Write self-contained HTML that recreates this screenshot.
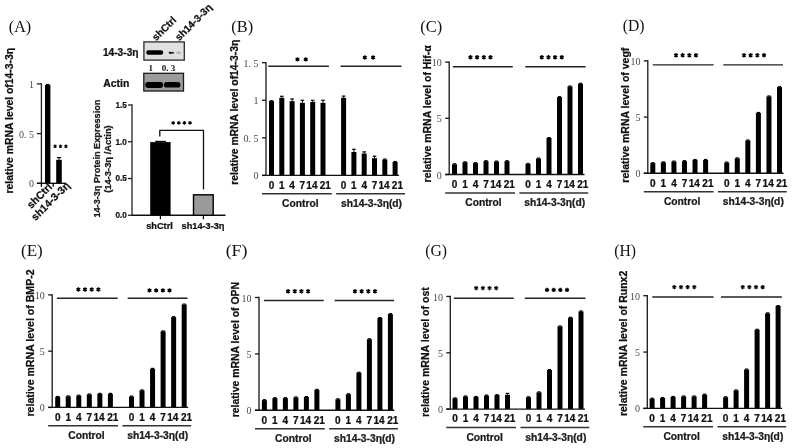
<!DOCTYPE html>
<html><head><meta charset="utf-8"><style>
html,body{margin:0;padding:0;background:#fff;}
svg{display:block;will-change:transform;}
.b{stroke:#000;stroke-width:0.22px;}
</style></head><body>
<svg width="793" height="448" viewBox="0 0 793 448">
<rect width="793" height="448" fill="#fff"/>
<text x="231.30" y="31.80" font-family='"Liberation Serif", serif' font-size="16.5" font-weight="normal" text-anchor="start" fill="#111" textLength="21.8" lengthAdjust="spacingAndGlyphs">(B)</text>
<line x1="266.00" y1="62.05" x2="266.00" y2="175.40" stroke="#1e1e1e" stroke-width="1.35"/>
<line x1="262.00" y1="175.40" x2="266.00" y2="175.40" stroke="#1e1e1e" stroke-width="1.35"/>
<text x="258.60" y="179.40" font-family='"Liberation Serif", serif' font-size="10" font-weight="normal" text-anchor="end" fill="#4a4a4a" >0</text>
<line x1="262.00" y1="137.83" x2="266.00" y2="137.83" stroke="#1e1e1e" stroke-width="1.35"/>
<text x="258.60" y="141.83" font-family='"Liberation Serif", serif' font-size="10" font-weight="normal" text-anchor="end" fill="#4a4a4a" >0. 5</text>
<line x1="262.00" y1="100.27" x2="266.00" y2="100.27" stroke="#1e1e1e" stroke-width="1.35"/>
<text x="258.60" y="104.27" font-family='"Liberation Serif", serif' font-size="10" font-weight="normal" text-anchor="end" fill="#4a4a4a" >1</text>
<line x1="262.00" y1="62.70" x2="266.00" y2="62.70" stroke="#1e1e1e" stroke-width="1.35"/>
<text x="258.60" y="66.70" font-family='"Liberation Serif", serif' font-size="10" font-weight="normal" text-anchor="end" fill="#4a4a4a" >1. 5</text>
<rect x="269.00" y="101.10" width="5.00" height="74.30" fill="#000"/>
<rect x="269.90" y="100.10" width="3.20" height="1.20" fill="#000"/>
<rect x="279.30" y="97.80" width="5.00" height="77.60" fill="#000"/>
<line x1="281.80" y1="96.30" x2="281.80" y2="97.80" stroke="#000" stroke-width="1"/>
<line x1="280.00" y1="96.30" x2="283.60" y2="96.30" stroke="#000" stroke-width="1.2"/>
<rect x="289.60" y="101.20" width="5.00" height="74.20" fill="#000"/>
<line x1="292.10" y1="99.00" x2="292.10" y2="101.20" stroke="#000" stroke-width="1"/>
<line x1="290.30" y1="99.00" x2="293.90" y2="99.00" stroke="#000" stroke-width="1.2"/>
<rect x="299.90" y="102.80" width="5.00" height="72.60" fill="#000"/>
<line x1="302.40" y1="100.30" x2="302.40" y2="102.80" stroke="#000" stroke-width="1"/>
<line x1="300.60" y1="100.30" x2="304.20" y2="100.30" stroke="#000" stroke-width="1.2"/>
<rect x="310.20" y="101.90" width="5.00" height="73.50" fill="#000"/>
<line x1="312.70" y1="100.30" x2="312.70" y2="101.90" stroke="#000" stroke-width="1"/>
<line x1="310.90" y1="100.30" x2="314.50" y2="100.30" stroke="#000" stroke-width="1.2"/>
<rect x="320.50" y="102.80" width="5.00" height="72.60" fill="#000"/>
<line x1="323.00" y1="100.30" x2="323.00" y2="102.80" stroke="#000" stroke-width="1"/>
<line x1="321.20" y1="100.30" x2="324.80" y2="100.30" stroke="#000" stroke-width="1.2"/>
<rect x="341.10" y="97.80" width="5.00" height="77.60" fill="#000"/>
<line x1="343.60" y1="96.10" x2="343.60" y2="97.80" stroke="#000" stroke-width="1"/>
<line x1="341.80" y1="96.10" x2="345.40" y2="96.10" stroke="#000" stroke-width="1.2"/>
<rect x="351.40" y="152.00" width="5.00" height="23.40" fill="#000"/>
<line x1="353.90" y1="149.30" x2="353.90" y2="152.00" stroke="#000" stroke-width="1"/>
<line x1="352.10" y1="149.30" x2="355.70" y2="149.30" stroke="#000" stroke-width="1.2"/>
<rect x="361.70" y="153.50" width="5.00" height="21.90" fill="#000"/>
<line x1="364.20" y1="151.90" x2="364.20" y2="153.50" stroke="#000" stroke-width="1"/>
<line x1="362.40" y1="151.90" x2="366.00" y2="151.90" stroke="#000" stroke-width="1.2"/>
<rect x="372.00" y="158.20" width="5.00" height="17.20" fill="#000"/>
<line x1="374.50" y1="156.20" x2="374.50" y2="158.20" stroke="#000" stroke-width="1"/>
<line x1="372.70" y1="156.20" x2="376.30" y2="156.20" stroke="#000" stroke-width="1.2"/>
<rect x="382.30" y="159.50" width="5.00" height="15.90" fill="#000"/>
<rect x="383.20" y="158.50" width="3.20" height="1.20" fill="#000"/>
<rect x="392.60" y="161.90" width="5.00" height="13.50" fill="#000"/>
<rect x="393.50" y="160.90" width="3.20" height="1.20" fill="#000"/>
<line x1="262.00" y1="175.40" x2="399.10" y2="175.40" stroke="#111" stroke-width="1.4"/>
<text class="b" x="271.50" y="188.60" font-family='"Liberation Sans", sans-serif' font-size="10" font-weight="bold" text-anchor="middle" fill="#111" >0</text>
<text class="b" x="281.80" y="188.60" font-family='"Liberation Sans", sans-serif' font-size="10" font-weight="bold" text-anchor="middle" fill="#111" >1</text>
<text class="b" x="292.10" y="188.60" font-family='"Liberation Sans", sans-serif' font-size="10" font-weight="bold" text-anchor="middle" fill="#111" >4</text>
<text class="b" x="302.40" y="188.60" font-family='"Liberation Sans", sans-serif' font-size="10" font-weight="bold" text-anchor="middle" fill="#111" >7</text>
<text class="b" x="311.90" y="188.60" font-family='"Liberation Sans", sans-serif' font-size="10" font-weight="bold" text-anchor="middle" fill="#111" >14</text>
<text class="b" x="325.30" y="188.60" font-family='"Liberation Sans", sans-serif' font-size="10" font-weight="bold" text-anchor="middle" fill="#111" >21</text>
<text class="b" x="343.60" y="188.60" font-family='"Liberation Sans", sans-serif' font-size="10" font-weight="bold" text-anchor="middle" fill="#111" >0</text>
<text class="b" x="353.90" y="188.60" font-family='"Liberation Sans", sans-serif' font-size="10" font-weight="bold" text-anchor="middle" fill="#111" >1</text>
<text class="b" x="364.20" y="188.60" font-family='"Liberation Sans", sans-serif' font-size="10" font-weight="bold" text-anchor="middle" fill="#111" >4</text>
<text class="b" x="374.50" y="188.60" font-family='"Liberation Sans", sans-serif' font-size="10" font-weight="bold" text-anchor="middle" fill="#111" >7</text>
<text class="b" x="384.00" y="188.60" font-family='"Liberation Sans", sans-serif' font-size="10" font-weight="bold" text-anchor="middle" fill="#111" >14</text>
<text class="b" x="397.40" y="188.60" font-family='"Liberation Sans", sans-serif' font-size="10" font-weight="bold" text-anchor="middle" fill="#111" >21</text>
<line x1="262.00" y1="193.80" x2="331.80" y2="193.80" stroke="#333" stroke-width="1.5"/>
<line x1="336.20" y1="193.80" x2="405.00" y2="193.80" stroke="#333" stroke-width="1.5"/>
<text class="b" x="300.30" y="206.90" font-family='"Liberation Sans", sans-serif' font-size="10.2" font-weight="bold" text-anchor="middle" fill="#1a1a1a" textLength="36.4" lengthAdjust="spacingAndGlyphs">Control</text>
<text class="b" x="371.50" y="206.90" font-family='"Liberation Sans", sans-serif' font-size="10" font-weight="bold" text-anchor="middle" fill="#222" textLength="61" lengthAdjust="spacingAndGlyphs">sh14-3-3η(d)</text>
<line x1="268.20" y1="66.20" x2="328.90" y2="66.20" stroke="#222" stroke-width="1.4"/>
<line x1="340.60" y1="66.20" x2="401.50" y2="66.20" stroke="#222" stroke-width="1.4"/>
<path d="M297.45,57.20L297.45,61.60M295.54,58.30L299.36,60.50M299.36,58.30L295.54,60.50" stroke="#000" stroke-width="1.35" fill="none"/>
<path d="M305.75,57.20L305.75,61.60M303.84,58.30L307.66,60.50M307.66,58.30L303.84,60.50" stroke="#000" stroke-width="1.35" fill="none"/>
<path d="M364.85,55.30L364.85,59.70M362.94,56.40L366.76,58.60M366.76,56.40L362.94,58.60" stroke="#000" stroke-width="1.35" fill="none"/>
<path d="M373.15,55.30L373.15,59.70M371.24,56.40L375.06,58.60M375.06,56.40L371.24,58.60" stroke="#000" stroke-width="1.35" fill="none"/>
<text transform="translate(238.30,184.70) rotate(-90)" font-family='"Liberation Sans", sans-serif' font-size="10.5" font-weight="bold" text-anchor="start" fill="#111" textLength="145.00" lengthAdjust="spacingAndGlyphs" class="b" >relative mRNA level of14-3-3η</text>
<text x="420.30" y="32.40" font-family='"Liberation Serif", serif' font-size="16.5" font-weight="normal" text-anchor="start" fill="#111" textLength="21.8" lengthAdjust="spacingAndGlyphs">(C)</text>
<line x1="449.20" y1="61.45" x2="449.20" y2="174.50" stroke="#1e1e1e" stroke-width="1.35"/>
<line x1="445.20" y1="174.50" x2="449.20" y2="174.50" stroke="#1e1e1e" stroke-width="1.35"/>
<text x="441.80" y="178.50" font-family='"Liberation Serif", serif' font-size="10" font-weight="normal" text-anchor="end" fill="#4a4a4a" >0</text>
<line x1="445.20" y1="118.30" x2="449.20" y2="118.30" stroke="#1e1e1e" stroke-width="1.35"/>
<text x="441.80" y="122.30" font-family='"Liberation Serif", serif' font-size="10" font-weight="normal" text-anchor="end" fill="#4a4a4a" >5</text>
<line x1="445.20" y1="62.10" x2="449.20" y2="62.10" stroke="#1e1e1e" stroke-width="1.35"/>
<text x="441.80" y="66.10" font-family='"Liberation Serif", serif' font-size="10" font-weight="normal" text-anchor="end" fill="#4a4a4a" >10</text>
<rect x="452.00" y="164.20" width="5.00" height="10.30" fill="#000"/>
<rect x="452.90" y="163.20" width="3.20" height="1.20" fill="#000"/>
<rect x="462.50" y="162.20" width="5.00" height="12.30" fill="#000"/>
<rect x="463.40" y="161.20" width="3.20" height="1.20" fill="#000"/>
<rect x="473.00" y="163.10" width="5.00" height="11.40" fill="#000"/>
<rect x="473.90" y="162.10" width="3.20" height="1.20" fill="#000"/>
<rect x="483.50" y="161.10" width="5.00" height="13.40" fill="#000"/>
<rect x="484.40" y="160.10" width="3.20" height="1.20" fill="#000"/>
<rect x="494.00" y="161.50" width="5.00" height="13.00" fill="#000"/>
<rect x="494.90" y="160.50" width="3.20" height="1.20" fill="#000"/>
<rect x="504.50" y="161.10" width="5.00" height="13.40" fill="#000"/>
<rect x="505.40" y="160.10" width="3.20" height="1.20" fill="#000"/>
<rect x="525.50" y="163.90" width="5.00" height="10.60" fill="#000"/>
<rect x="526.40" y="162.90" width="3.20" height="1.20" fill="#000"/>
<rect x="536.00" y="158.50" width="5.00" height="16.00" fill="#000"/>
<rect x="536.90" y="157.50" width="3.20" height="1.20" fill="#000"/>
<rect x="546.50" y="138.00" width="5.00" height="36.50" fill="#000"/>
<rect x="547.40" y="137.00" width="3.20" height="1.20" fill="#000"/>
<rect x="557.00" y="97.10" width="5.00" height="77.40" fill="#000"/>
<rect x="557.90" y="96.10" width="3.20" height="1.20" fill="#000"/>
<rect x="567.50" y="86.40" width="5.00" height="88.10" fill="#000"/>
<rect x="568.40" y="85.40" width="3.20" height="1.20" fill="#000"/>
<rect x="578.00" y="83.70" width="5.00" height="90.80" fill="#000"/>
<rect x="578.90" y="82.70" width="3.20" height="1.20" fill="#000"/>
<line x1="445.20" y1="174.50" x2="584.50" y2="174.50" stroke="#111" stroke-width="1.4"/>
<text class="b" x="454.50" y="187.70" font-family='"Liberation Sans", sans-serif' font-size="10" font-weight="bold" text-anchor="middle" fill="#111" >0</text>
<text class="b" x="465.00" y="187.70" font-family='"Liberation Sans", sans-serif' font-size="10" font-weight="bold" text-anchor="middle" fill="#111" >1</text>
<text class="b" x="475.50" y="187.70" font-family='"Liberation Sans", sans-serif' font-size="10" font-weight="bold" text-anchor="middle" fill="#111" >4</text>
<text class="b" x="486.00" y="187.70" font-family='"Liberation Sans", sans-serif' font-size="10" font-weight="bold" text-anchor="middle" fill="#111" >7</text>
<text class="b" x="495.70" y="187.70" font-family='"Liberation Sans", sans-serif' font-size="10" font-weight="bold" text-anchor="middle" fill="#111" >14</text>
<text class="b" x="509.30" y="187.70" font-family='"Liberation Sans", sans-serif' font-size="10" font-weight="bold" text-anchor="middle" fill="#111" >21</text>
<text class="b" x="528.00" y="187.70" font-family='"Liberation Sans", sans-serif' font-size="10" font-weight="bold" text-anchor="middle" fill="#111" >0</text>
<text class="b" x="538.50" y="187.70" font-family='"Liberation Sans", sans-serif' font-size="10" font-weight="bold" text-anchor="middle" fill="#111" >1</text>
<text class="b" x="549.00" y="187.70" font-family='"Liberation Sans", sans-serif' font-size="10" font-weight="bold" text-anchor="middle" fill="#111" >4</text>
<text class="b" x="559.50" y="187.70" font-family='"Liberation Sans", sans-serif' font-size="10" font-weight="bold" text-anchor="middle" fill="#111" >7</text>
<text class="b" x="569.20" y="187.70" font-family='"Liberation Sans", sans-serif' font-size="10" font-weight="bold" text-anchor="middle" fill="#111" >14</text>
<text class="b" x="582.80" y="187.70" font-family='"Liberation Sans", sans-serif' font-size="10" font-weight="bold" text-anchor="middle" fill="#111" >21</text>
<line x1="445.20" y1="192.90" x2="515.00" y2="192.90" stroke="#333" stroke-width="1.5"/>
<line x1="519.40" y1="192.90" x2="588.20" y2="192.90" stroke="#333" stroke-width="1.5"/>
<text class="b" x="483.50" y="206.00" font-family='"Liberation Sans", sans-serif' font-size="10.2" font-weight="bold" text-anchor="middle" fill="#1a1a1a" textLength="36.4" lengthAdjust="spacingAndGlyphs">Control</text>
<text class="b" x="554.70" y="206.00" font-family='"Liberation Sans", sans-serif' font-size="10" font-weight="bold" text-anchor="middle" fill="#222" textLength="61" lengthAdjust="spacingAndGlyphs">sh14-3-3η(d)</text>
<line x1="452.90" y1="66.70" x2="512.80" y2="66.70" stroke="#222" stroke-width="1.4"/>
<line x1="525.30" y1="66.70" x2="585.60" y2="66.70" stroke="#222" stroke-width="1.4"/>
<path d="M470.50,55.00L470.50,59.40M468.59,56.10L472.40,58.30M472.40,56.10L468.59,58.30" stroke="#000" stroke-width="1.35" fill="none"/>
<path d="M477.17,55.00L477.17,59.40M475.26,56.10L479.07,58.30M479.07,56.10L475.26,58.30" stroke="#000" stroke-width="1.35" fill="none"/>
<path d="M483.83,55.00L483.83,59.40M481.93,56.10L485.74,58.30M485.74,56.10L481.93,58.30" stroke="#000" stroke-width="1.35" fill="none"/>
<path d="M490.50,55.00L490.50,59.40M488.60,56.10L492.41,58.30M492.41,56.10L488.60,58.30" stroke="#000" stroke-width="1.35" fill="none"/>
<path d="M541.79,55.00L541.79,59.40M539.89,56.10L543.70,58.30M543.70,56.10L539.89,58.30" stroke="#000" stroke-width="1.35" fill="none"/>
<path d="M548.46,55.00L548.46,59.40M546.56,56.10L550.37,58.30M550.37,56.10L546.56,58.30" stroke="#000" stroke-width="1.35" fill="none"/>
<path d="M555.13,55.00L555.13,59.40M553.23,56.10L557.04,58.30M557.04,56.10L553.23,58.30" stroke="#000" stroke-width="1.35" fill="none"/>
<path d="M561.80,55.00L561.80,59.40M559.90,56.10L563.71,58.30M563.71,56.10L559.90,58.30" stroke="#000" stroke-width="1.35" fill="none"/>
<text transform="translate(430.80,182.40) rotate(-90)" font-family='"Liberation Sans", sans-serif' font-size="10.5" font-weight="bold" text-anchor="start" fill="#111" textLength="137.10" lengthAdjust="spacingAndGlyphs" class="b" >relative mRNA level of Hif-α</text>
<text x="622.80" y="30.60" font-family='"Liberation Serif", serif' font-size="16.5" font-weight="normal" text-anchor="start" fill="#111" textLength="21.8" lengthAdjust="spacingAndGlyphs">(D)</text>
<line x1="647.80" y1="60.25" x2="647.80" y2="173.30" stroke="#1e1e1e" stroke-width="1.35"/>
<line x1="643.80" y1="173.30" x2="647.80" y2="173.30" stroke="#1e1e1e" stroke-width="1.35"/>
<text x="640.40" y="177.30" font-family='"Liberation Serif", serif' font-size="10" font-weight="normal" text-anchor="end" fill="#4a4a4a" >0</text>
<line x1="643.80" y1="117.10" x2="647.80" y2="117.10" stroke="#1e1e1e" stroke-width="1.35"/>
<text x="640.40" y="121.10" font-family='"Liberation Serif", serif' font-size="10" font-weight="normal" text-anchor="end" fill="#4a4a4a" >5</text>
<line x1="643.80" y1="60.90" x2="647.80" y2="60.90" stroke="#1e1e1e" stroke-width="1.35"/>
<text x="640.40" y="64.90" font-family='"Liberation Serif", serif' font-size="10" font-weight="normal" text-anchor="end" fill="#4a4a4a" >10</text>
<rect x="650.30" y="163.10" width="5.00" height="10.20" fill="#000"/>
<rect x="651.20" y="162.10" width="3.20" height="1.20" fill="#000"/>
<rect x="660.86" y="162.30" width="5.00" height="11.00" fill="#000"/>
<rect x="661.76" y="161.30" width="3.20" height="1.20" fill="#000"/>
<rect x="671.42" y="161.50" width="5.00" height="11.80" fill="#000"/>
<rect x="672.32" y="160.50" width="3.20" height="1.20" fill="#000"/>
<rect x="681.98" y="161.10" width="5.00" height="12.20" fill="#000"/>
<rect x="682.88" y="160.10" width="3.20" height="1.20" fill="#000"/>
<rect x="692.54" y="159.90" width="5.00" height="13.40" fill="#000"/>
<rect x="693.44" y="158.90" width="3.20" height="1.20" fill="#000"/>
<rect x="703.10" y="159.90" width="5.00" height="13.40" fill="#000"/>
<rect x="704.00" y="158.90" width="3.20" height="1.20" fill="#000"/>
<rect x="724.22" y="162.50" width="5.00" height="10.80" fill="#000"/>
<rect x="725.12" y="161.50" width="3.20" height="1.20" fill="#000"/>
<rect x="734.78" y="158.30" width="5.00" height="15.00" fill="#000"/>
<rect x="735.68" y="157.30" width="3.20" height="1.20" fill="#000"/>
<rect x="745.34" y="140.40" width="5.00" height="32.90" fill="#000"/>
<rect x="746.24" y="139.40" width="3.20" height="1.20" fill="#000"/>
<rect x="755.90" y="112.90" width="5.00" height="60.40" fill="#000"/>
<rect x="756.80" y="111.90" width="3.20" height="1.20" fill="#000"/>
<rect x="766.46" y="96.40" width="5.00" height="76.90" fill="#000"/>
<rect x="767.36" y="95.40" width="3.20" height="1.20" fill="#000"/>
<rect x="777.02" y="87.10" width="5.00" height="86.20" fill="#000"/>
<rect x="777.92" y="86.10" width="3.20" height="1.20" fill="#000"/>
<line x1="643.80" y1="173.30" x2="783.52" y2="173.30" stroke="#111" stroke-width="1.4"/>
<text class="b" x="652.80" y="186.50" font-family='"Liberation Sans", sans-serif' font-size="10" font-weight="bold" text-anchor="middle" fill="#111" >0</text>
<text class="b" x="663.36" y="186.50" font-family='"Liberation Sans", sans-serif' font-size="10" font-weight="bold" text-anchor="middle" fill="#111" >1</text>
<text class="b" x="673.92" y="186.50" font-family='"Liberation Sans", sans-serif' font-size="10" font-weight="bold" text-anchor="middle" fill="#111" >4</text>
<text class="b" x="684.48" y="186.50" font-family='"Liberation Sans", sans-serif' font-size="10" font-weight="bold" text-anchor="middle" fill="#111" >7</text>
<text class="b" x="694.24" y="186.50" font-family='"Liberation Sans", sans-serif' font-size="10" font-weight="bold" text-anchor="middle" fill="#111" >14</text>
<text class="b" x="707.90" y="186.50" font-family='"Liberation Sans", sans-serif' font-size="10" font-weight="bold" text-anchor="middle" fill="#111" >21</text>
<text class="b" x="726.72" y="186.50" font-family='"Liberation Sans", sans-serif' font-size="10" font-weight="bold" text-anchor="middle" fill="#111" >0</text>
<text class="b" x="737.28" y="186.50" font-family='"Liberation Sans", sans-serif' font-size="10" font-weight="bold" text-anchor="middle" fill="#111" >1</text>
<text class="b" x="747.84" y="186.50" font-family='"Liberation Sans", sans-serif' font-size="10" font-weight="bold" text-anchor="middle" fill="#111" >4</text>
<text class="b" x="758.40" y="186.50" font-family='"Liberation Sans", sans-serif' font-size="10" font-weight="bold" text-anchor="middle" fill="#111" >7</text>
<text class="b" x="768.16" y="186.50" font-family='"Liberation Sans", sans-serif' font-size="10" font-weight="bold" text-anchor="middle" fill="#111" >14</text>
<text class="b" x="781.82" y="186.50" font-family='"Liberation Sans", sans-serif' font-size="10" font-weight="bold" text-anchor="middle" fill="#111" >21</text>
<line x1="643.80" y1="191.70" x2="713.60" y2="191.70" stroke="#333" stroke-width="1.5"/>
<line x1="718.00" y1="191.70" x2="786.80" y2="191.70" stroke="#333" stroke-width="1.5"/>
<text class="b" x="682.10" y="204.80" font-family='"Liberation Sans", sans-serif' font-size="10.2" font-weight="bold" text-anchor="middle" fill="#1a1a1a" textLength="36.4" lengthAdjust="spacingAndGlyphs">Control</text>
<text class="b" x="753.30" y="204.80" font-family='"Liberation Sans", sans-serif' font-size="10" font-weight="bold" text-anchor="middle" fill="#222" textLength="61" lengthAdjust="spacingAndGlyphs">sh14-3-3η(d)</text>
<line x1="652.70" y1="64.90" x2="713.60" y2="64.90" stroke="#222" stroke-width="1.4"/>
<line x1="723.30" y1="64.90" x2="783.00" y2="64.90" stroke="#222" stroke-width="1.4"/>
<path d="M676.00,53.00L676.00,57.40M674.09,54.10L677.90,56.30M677.90,54.10L674.09,56.30" stroke="#000" stroke-width="1.35" fill="none"/>
<path d="M682.66,53.00L682.66,57.40M680.76,54.10L684.57,56.30M684.57,54.10L680.76,56.30" stroke="#000" stroke-width="1.35" fill="none"/>
<path d="M689.34,53.00L689.34,57.40M687.43,54.10L691.24,56.30M691.24,54.10L687.43,56.30" stroke="#000" stroke-width="1.35" fill="none"/>
<path d="M696.00,53.00L696.00,57.40M694.10,54.10L697.91,56.30M697.91,54.10L694.10,56.30" stroke="#000" stroke-width="1.35" fill="none"/>
<path d="M744.00,53.00L744.00,57.40M742.09,54.10L745.90,56.30M745.90,54.10L742.09,56.30" stroke="#000" stroke-width="1.35" fill="none"/>
<path d="M750.66,53.00L750.66,57.40M748.76,54.10L752.57,56.30M752.57,54.10L748.76,56.30" stroke="#000" stroke-width="1.35" fill="none"/>
<path d="M757.34,53.00L757.34,57.40M755.43,54.10L759.24,56.30M759.24,54.10L755.43,56.30" stroke="#000" stroke-width="1.35" fill="none"/>
<path d="M764.00,53.00L764.00,57.40M762.10,54.10L765.91,56.30M765.91,54.10L762.10,56.30" stroke="#000" stroke-width="1.35" fill="none"/>
<text transform="translate(629.00,182.70) rotate(-90)" font-family='"Liberation Sans", sans-serif' font-size="10.5" font-weight="bold" text-anchor="start" fill="#111" textLength="135.00" lengthAdjust="spacingAndGlyphs" class="b" >relative mRNA level of vegf</text>
<text x="21.00" y="256.00" font-family='"Liberation Serif", serif' font-size="16.5" font-weight="normal" text-anchor="start" fill="#111" textLength="21.8" lengthAdjust="spacingAndGlyphs">(E)</text>
<line x1="52.20" y1="294.25" x2="52.20" y2="407.40" stroke="#1e1e1e" stroke-width="1.35"/>
<line x1="48.20" y1="407.40" x2="52.20" y2="407.40" stroke="#1e1e1e" stroke-width="1.35"/>
<text x="44.80" y="411.40" font-family='"Liberation Serif", serif' font-size="10" font-weight="normal" text-anchor="end" fill="#4a4a4a" >0</text>
<line x1="48.20" y1="351.15" x2="52.20" y2="351.15" stroke="#1e1e1e" stroke-width="1.35"/>
<text x="44.80" y="355.15" font-family='"Liberation Serif", serif' font-size="10" font-weight="normal" text-anchor="end" fill="#4a4a4a" >5</text>
<line x1="48.20" y1="294.90" x2="52.20" y2="294.90" stroke="#1e1e1e" stroke-width="1.35"/>
<text x="44.80" y="298.90" font-family='"Liberation Serif", serif' font-size="10" font-weight="normal" text-anchor="end" fill="#4a4a4a" >10</text>
<rect x="55.20" y="396.90" width="5.00" height="10.50" fill="#000"/>
<rect x="56.10" y="395.90" width="3.20" height="1.20" fill="#000"/>
<rect x="65.74" y="396.30" width="5.00" height="11.10" fill="#000"/>
<rect x="66.64" y="395.30" width="3.20" height="1.20" fill="#000"/>
<rect x="76.28" y="395.60" width="5.00" height="11.80" fill="#000"/>
<rect x="77.18" y="394.60" width="3.20" height="1.20" fill="#000"/>
<rect x="86.82" y="394.40" width="5.00" height="13.00" fill="#000"/>
<rect x="87.72" y="393.40" width="3.20" height="1.20" fill="#000"/>
<rect x="97.36" y="393.80" width="5.00" height="13.60" fill="#000"/>
<rect x="98.26" y="392.80" width="3.20" height="1.20" fill="#000"/>
<rect x="107.90" y="393.80" width="5.00" height="13.60" fill="#000"/>
<rect x="108.80" y="392.80" width="3.20" height="1.20" fill="#000"/>
<rect x="128.98" y="396.50" width="5.00" height="10.90" fill="#000"/>
<rect x="129.88" y="395.50" width="3.20" height="1.20" fill="#000"/>
<rect x="139.52" y="390.30" width="5.00" height="17.10" fill="#000"/>
<rect x="140.42" y="389.30" width="3.20" height="1.20" fill="#000"/>
<rect x="150.06" y="368.80" width="5.00" height="38.60" fill="#000"/>
<rect x="150.96" y="367.80" width="3.20" height="1.20" fill="#000"/>
<rect x="160.60" y="331.30" width="5.00" height="76.10" fill="#000"/>
<rect x="161.50" y="330.30" width="3.20" height="1.20" fill="#000"/>
<rect x="171.14" y="317.10" width="5.00" height="90.30" fill="#000"/>
<rect x="172.04" y="316.10" width="3.20" height="1.20" fill="#000"/>
<rect x="181.68" y="304.50" width="5.00" height="102.90" fill="#000"/>
<rect x="182.58" y="303.50" width="3.20" height="1.20" fill="#000"/>
<line x1="48.20" y1="407.40" x2="188.18" y2="407.40" stroke="#111" stroke-width="1.4"/>
<text class="b" x="57.70" y="420.60" font-family='"Liberation Sans", sans-serif' font-size="10" font-weight="bold" text-anchor="middle" fill="#111" >0</text>
<text class="b" x="68.24" y="420.60" font-family='"Liberation Sans", sans-serif' font-size="10" font-weight="bold" text-anchor="middle" fill="#111" >1</text>
<text class="b" x="78.78" y="420.60" font-family='"Liberation Sans", sans-serif' font-size="10" font-weight="bold" text-anchor="middle" fill="#111" >4</text>
<text class="b" x="89.32" y="420.60" font-family='"Liberation Sans", sans-serif' font-size="10" font-weight="bold" text-anchor="middle" fill="#111" >7</text>
<text class="b" x="99.06" y="420.60" font-family='"Liberation Sans", sans-serif' font-size="10" font-weight="bold" text-anchor="middle" fill="#111" >14</text>
<text class="b" x="112.70" y="420.60" font-family='"Liberation Sans", sans-serif' font-size="10" font-weight="bold" text-anchor="middle" fill="#111" >21</text>
<text class="b" x="131.48" y="420.60" font-family='"Liberation Sans", sans-serif' font-size="10" font-weight="bold" text-anchor="middle" fill="#111" >0</text>
<text class="b" x="142.02" y="420.60" font-family='"Liberation Sans", sans-serif' font-size="10" font-weight="bold" text-anchor="middle" fill="#111" >1</text>
<text class="b" x="152.56" y="420.60" font-family='"Liberation Sans", sans-serif' font-size="10" font-weight="bold" text-anchor="middle" fill="#111" >4</text>
<text class="b" x="163.10" y="420.60" font-family='"Liberation Sans", sans-serif' font-size="10" font-weight="bold" text-anchor="middle" fill="#111" >7</text>
<text class="b" x="172.84" y="420.60" font-family='"Liberation Sans", sans-serif' font-size="10" font-weight="bold" text-anchor="middle" fill="#111" >14</text>
<text class="b" x="186.48" y="420.60" font-family='"Liberation Sans", sans-serif' font-size="10" font-weight="bold" text-anchor="middle" fill="#111" >21</text>
<line x1="48.20" y1="425.80" x2="118.00" y2="425.80" stroke="#333" stroke-width="1.5"/>
<line x1="122.40" y1="425.80" x2="191.20" y2="425.80" stroke="#333" stroke-width="1.5"/>
<text class="b" x="86.50" y="438.90" font-family='"Liberation Sans", sans-serif' font-size="10.2" font-weight="bold" text-anchor="middle" fill="#1a1a1a" textLength="36.4" lengthAdjust="spacingAndGlyphs">Control</text>
<text class="b" x="157.70" y="438.90" font-family='"Liberation Sans", sans-serif' font-size="10" font-weight="bold" text-anchor="middle" fill="#222" textLength="61" lengthAdjust="spacingAndGlyphs">sh14-3-3η(d)</text>
<line x1="56.90" y1="298.30" x2="117.70" y2="298.30" stroke="#222" stroke-width="1.4"/>
<line x1="127.70" y1="298.30" x2="187.50" y2="298.30" stroke="#222" stroke-width="1.4"/>
<path d="M78.40,287.30L78.40,291.70M76.49,288.40L80.30,290.60M80.30,288.40L76.49,290.60" stroke="#000" stroke-width="1.35" fill="none"/>
<path d="M85.07,287.30L85.07,291.70M83.16,288.40L86.97,290.60M86.97,288.40L83.16,290.60" stroke="#000" stroke-width="1.35" fill="none"/>
<path d="M91.74,287.30L91.74,291.70M89.83,288.40L93.64,290.60M93.64,288.40L89.83,290.60" stroke="#000" stroke-width="1.35" fill="none"/>
<path d="M98.41,287.30L98.41,291.70M96.50,288.40L100.31,290.60M100.31,288.40L96.50,290.60" stroke="#000" stroke-width="1.35" fill="none"/>
<path d="M149.50,288.20L149.50,292.60M147.59,289.30L151.40,291.50M151.40,289.30L147.59,291.50" stroke="#000" stroke-width="1.35" fill="none"/>
<path d="M156.16,288.20L156.16,292.60M154.26,289.30L158.07,291.50M158.07,289.30L154.26,291.50" stroke="#000" stroke-width="1.35" fill="none"/>
<path d="M162.84,288.20L162.84,292.60M160.93,289.30L164.74,291.50M164.74,289.30L160.93,291.50" stroke="#000" stroke-width="1.35" fill="none"/>
<path d="M169.50,288.20L169.50,292.60M167.60,289.30L171.41,291.50M171.41,289.30L167.60,291.50" stroke="#000" stroke-width="1.35" fill="none"/>
<text transform="translate(34.10,416.50) rotate(-90)" font-family='"Liberation Sans", sans-serif' font-size="10.5" font-weight="bold" text-anchor="start" fill="#111" textLength="147.10" lengthAdjust="spacingAndGlyphs" class="b" >relative mRNA level of BMP-2</text>
<text x="225.70" y="256.10" font-family='"Liberation Serif", serif' font-size="16.5" font-weight="normal" text-anchor="start" fill="#111" textLength="21.8" lengthAdjust="spacingAndGlyphs">(F)</text>
<line x1="259.00" y1="296.85" x2="259.00" y2="410.30" stroke="#1e1e1e" stroke-width="1.35"/>
<line x1="255.00" y1="410.30" x2="259.00" y2="410.30" stroke="#1e1e1e" stroke-width="1.35"/>
<text x="251.60" y="414.30" font-family='"Liberation Serif", serif' font-size="10" font-weight="normal" text-anchor="end" fill="#4a4a4a" >0</text>
<line x1="255.00" y1="353.90" x2="259.00" y2="353.90" stroke="#1e1e1e" stroke-width="1.35"/>
<text x="251.60" y="357.90" font-family='"Liberation Serif", serif' font-size="10" font-weight="normal" text-anchor="end" fill="#4a4a4a" >5</text>
<line x1="255.00" y1="297.50" x2="259.00" y2="297.50" stroke="#1e1e1e" stroke-width="1.35"/>
<text x="251.60" y="301.50" font-family='"Liberation Serif", serif' font-size="10" font-weight="normal" text-anchor="end" fill="#4a4a4a" >10</text>
<rect x="261.90" y="400.10" width="5.00" height="10.20" fill="#000"/>
<rect x="262.80" y="399.10" width="3.20" height="1.20" fill="#000"/>
<rect x="272.40" y="398.10" width="5.00" height="12.20" fill="#000"/>
<rect x="273.30" y="397.10" width="3.20" height="1.20" fill="#000"/>
<rect x="282.90" y="398.10" width="5.00" height="12.20" fill="#000"/>
<rect x="283.80" y="397.10" width="3.20" height="1.20" fill="#000"/>
<rect x="293.40" y="397.40" width="5.00" height="12.90" fill="#000"/>
<rect x="294.30" y="396.40" width="3.20" height="1.20" fill="#000"/>
<rect x="303.90" y="397.00" width="5.00" height="13.30" fill="#000"/>
<rect x="304.80" y="396.00" width="3.20" height="1.20" fill="#000"/>
<rect x="314.40" y="389.80" width="5.00" height="20.50" fill="#000"/>
<rect x="315.30" y="388.80" width="3.20" height="1.20" fill="#000"/>
<rect x="335.40" y="399.20" width="5.00" height="11.10" fill="#000"/>
<rect x="336.30" y="398.20" width="3.20" height="1.20" fill="#000"/>
<rect x="345.90" y="394.20" width="5.00" height="16.10" fill="#000"/>
<rect x="346.80" y="393.20" width="3.20" height="1.20" fill="#000"/>
<rect x="356.40" y="372.70" width="5.00" height="37.60" fill="#000"/>
<rect x="357.30" y="371.70" width="3.20" height="1.20" fill="#000"/>
<rect x="366.90" y="339.20" width="5.00" height="71.10" fill="#000"/>
<rect x="367.80" y="338.20" width="3.20" height="1.20" fill="#000"/>
<rect x="377.40" y="318.00" width="5.00" height="92.30" fill="#000"/>
<rect x="378.30" y="317.00" width="3.20" height="1.20" fill="#000"/>
<rect x="387.90" y="314.10" width="5.00" height="96.20" fill="#000"/>
<rect x="388.80" y="313.10" width="3.20" height="1.20" fill="#000"/>
<line x1="255.00" y1="410.30" x2="394.40" y2="410.30" stroke="#111" stroke-width="1.4"/>
<text class="b" x="264.40" y="423.50" font-family='"Liberation Sans", sans-serif' font-size="10" font-weight="bold" text-anchor="middle" fill="#111" >0</text>
<text class="b" x="274.90" y="423.50" font-family='"Liberation Sans", sans-serif' font-size="10" font-weight="bold" text-anchor="middle" fill="#111" >1</text>
<text class="b" x="285.40" y="423.50" font-family='"Liberation Sans", sans-serif' font-size="10" font-weight="bold" text-anchor="middle" fill="#111" >4</text>
<text class="b" x="295.90" y="423.50" font-family='"Liberation Sans", sans-serif' font-size="10" font-weight="bold" text-anchor="middle" fill="#111" >7</text>
<text class="b" x="305.60" y="423.50" font-family='"Liberation Sans", sans-serif' font-size="10" font-weight="bold" text-anchor="middle" fill="#111" >14</text>
<text class="b" x="319.20" y="423.50" font-family='"Liberation Sans", sans-serif' font-size="10" font-weight="bold" text-anchor="middle" fill="#111" >21</text>
<text class="b" x="337.90" y="423.50" font-family='"Liberation Sans", sans-serif' font-size="10" font-weight="bold" text-anchor="middle" fill="#111" >0</text>
<text class="b" x="348.40" y="423.50" font-family='"Liberation Sans", sans-serif' font-size="10" font-weight="bold" text-anchor="middle" fill="#111" >1</text>
<text class="b" x="358.90" y="423.50" font-family='"Liberation Sans", sans-serif' font-size="10" font-weight="bold" text-anchor="middle" fill="#111" >4</text>
<text class="b" x="369.40" y="423.50" font-family='"Liberation Sans", sans-serif' font-size="10" font-weight="bold" text-anchor="middle" fill="#111" >7</text>
<text class="b" x="379.10" y="423.50" font-family='"Liberation Sans", sans-serif' font-size="10" font-weight="bold" text-anchor="middle" fill="#111" >14</text>
<text class="b" x="392.70" y="423.50" font-family='"Liberation Sans", sans-serif' font-size="10" font-weight="bold" text-anchor="middle" fill="#111" >21</text>
<line x1="255.00" y1="428.70" x2="324.80" y2="428.70" stroke="#333" stroke-width="1.5"/>
<line x1="329.20" y1="428.70" x2="398.00" y2="428.70" stroke="#333" stroke-width="1.5"/>
<text class="b" x="293.30" y="441.80" font-family='"Liberation Sans", sans-serif' font-size="10.2" font-weight="bold" text-anchor="middle" fill="#1a1a1a" textLength="36.4" lengthAdjust="spacingAndGlyphs">Control</text>
<text class="b" x="364.50" y="441.80" font-family='"Liberation Sans", sans-serif' font-size="10" font-weight="bold" text-anchor="middle" fill="#222" textLength="61" lengthAdjust="spacingAndGlyphs">sh14-3-3η(d)</text>
<line x1="263.90" y1="300.50" x2="323.70" y2="300.50" stroke="#222" stroke-width="1.4"/>
<line x1="334.70" y1="300.50" x2="394.10" y2="300.50" stroke="#222" stroke-width="1.4"/>
<path d="M288.10,289.10L288.10,293.50M286.19,290.20L290.00,292.40M290.00,290.20L286.19,292.40" stroke="#000" stroke-width="1.35" fill="none"/>
<path d="M294.77,289.10L294.77,293.50M292.86,290.20L296.67,292.40M296.67,290.20L292.86,292.40" stroke="#000" stroke-width="1.35" fill="none"/>
<path d="M301.44,289.10L301.44,293.50M299.53,290.20L303.34,292.40M303.34,290.20L299.53,292.40" stroke="#000" stroke-width="1.35" fill="none"/>
<path d="M308.11,289.10L308.11,293.50M306.20,290.20L310.01,292.40M310.01,290.20L306.20,292.40" stroke="#000" stroke-width="1.35" fill="none"/>
<path d="M355.00,289.10L355.00,293.50M353.09,290.20L356.90,292.40M356.90,290.20L353.09,292.40" stroke="#000" stroke-width="1.35" fill="none"/>
<path d="M361.67,289.10L361.67,293.50M359.76,290.20L363.57,292.40M363.57,290.20L359.76,292.40" stroke="#000" stroke-width="1.35" fill="none"/>
<path d="M368.33,289.10L368.33,293.50M366.43,290.20L370.24,292.40M370.24,290.20L366.43,292.40" stroke="#000" stroke-width="1.35" fill="none"/>
<path d="M375.00,289.10L375.00,293.50M373.10,290.20L376.91,292.40M376.91,290.20L373.10,292.40" stroke="#000" stroke-width="1.35" fill="none"/>
<text transform="translate(239.00,417.30) rotate(-90)" font-family='"Liberation Sans", sans-serif' font-size="10.5" font-weight="bold" text-anchor="start" fill="#111" textLength="135.40" lengthAdjust="spacingAndGlyphs" class="b" >relative mRNA level of OPN</text>
<text x="425.30" y="256.30" font-family='"Liberation Serif", serif' font-size="16.5" font-weight="normal" text-anchor="start" fill="#111" textLength="21.8" lengthAdjust="spacingAndGlyphs">(G)</text>
<line x1="450.30" y1="295.85" x2="450.30" y2="409.10" stroke="#1e1e1e" stroke-width="1.35"/>
<line x1="446.30" y1="409.10" x2="450.30" y2="409.10" stroke="#1e1e1e" stroke-width="1.35"/>
<text x="442.90" y="413.10" font-family='"Liberation Serif", serif' font-size="10" font-weight="normal" text-anchor="end" fill="#4a4a4a" >0</text>
<line x1="446.30" y1="352.80" x2="450.30" y2="352.80" stroke="#1e1e1e" stroke-width="1.35"/>
<text x="442.90" y="356.80" font-family='"Liberation Serif", serif' font-size="10" font-weight="normal" text-anchor="end" fill="#4a4a4a" >5</text>
<line x1="446.30" y1="296.50" x2="450.30" y2="296.50" stroke="#1e1e1e" stroke-width="1.35"/>
<text x="442.90" y="300.50" font-family='"Liberation Serif", serif' font-size="10" font-weight="normal" text-anchor="end" fill="#4a4a4a" >10</text>
<rect x="452.50" y="398.30" width="5.00" height="10.80" fill="#000"/>
<rect x="453.40" y="397.30" width="3.20" height="1.20" fill="#000"/>
<rect x="463.00" y="396.40" width="5.00" height="12.70" fill="#000"/>
<rect x="463.90" y="395.40" width="3.20" height="1.20" fill="#000"/>
<rect x="473.50" y="396.90" width="5.00" height="12.20" fill="#000"/>
<rect x="474.40" y="395.90" width="3.20" height="1.20" fill="#000"/>
<rect x="484.00" y="395.50" width="5.00" height="13.60" fill="#000"/>
<rect x="484.90" y="394.50" width="3.20" height="1.20" fill="#000"/>
<rect x="494.50" y="395.10" width="5.00" height="14.00" fill="#000"/>
<rect x="495.40" y="394.10" width="3.20" height="1.20" fill="#000"/>
<rect x="505.00" y="394.80" width="5.00" height="14.30" fill="#000"/>
<line x1="507.50" y1="393.40" x2="507.50" y2="394.80" stroke="#000" stroke-width="1"/>
<line x1="505.70" y1="393.40" x2="509.30" y2="393.40" stroke="#000" stroke-width="1.2"/>
<rect x="526.00" y="397.20" width="5.00" height="11.90" fill="#000"/>
<rect x="526.90" y="396.20" width="3.20" height="1.20" fill="#000"/>
<rect x="536.50" y="392.30" width="5.00" height="16.80" fill="#000"/>
<rect x="537.40" y="391.30" width="3.20" height="1.20" fill="#000"/>
<rect x="547.00" y="370.00" width="5.00" height="39.10" fill="#000"/>
<rect x="547.90" y="369.00" width="3.20" height="1.20" fill="#000"/>
<rect x="557.50" y="326.40" width="5.00" height="82.70" fill="#000"/>
<rect x="558.40" y="325.40" width="3.20" height="1.20" fill="#000"/>
<rect x="568.00" y="317.70" width="5.00" height="91.40" fill="#000"/>
<rect x="568.90" y="316.70" width="3.20" height="1.20" fill="#000"/>
<rect x="578.50" y="311.40" width="5.00" height="97.70" fill="#000"/>
<rect x="579.40" y="310.40" width="3.20" height="1.20" fill="#000"/>
<line x1="446.30" y1="409.10" x2="585.00" y2="409.10" stroke="#111" stroke-width="1.4"/>
<text class="b" x="455.00" y="422.30" font-family='"Liberation Sans", sans-serif' font-size="10" font-weight="bold" text-anchor="middle" fill="#111" >0</text>
<text class="b" x="465.50" y="422.30" font-family='"Liberation Sans", sans-serif' font-size="10" font-weight="bold" text-anchor="middle" fill="#111" >1</text>
<text class="b" x="476.00" y="422.30" font-family='"Liberation Sans", sans-serif' font-size="10" font-weight="bold" text-anchor="middle" fill="#111" >4</text>
<text class="b" x="486.50" y="422.30" font-family='"Liberation Sans", sans-serif' font-size="10" font-weight="bold" text-anchor="middle" fill="#111" >7</text>
<text class="b" x="496.20" y="422.30" font-family='"Liberation Sans", sans-serif' font-size="10" font-weight="bold" text-anchor="middle" fill="#111" >14</text>
<text class="b" x="509.80" y="422.30" font-family='"Liberation Sans", sans-serif' font-size="10" font-weight="bold" text-anchor="middle" fill="#111" >21</text>
<text class="b" x="528.50" y="422.30" font-family='"Liberation Sans", sans-serif' font-size="10" font-weight="bold" text-anchor="middle" fill="#111" >0</text>
<text class="b" x="539.00" y="422.30" font-family='"Liberation Sans", sans-serif' font-size="10" font-weight="bold" text-anchor="middle" fill="#111" >1</text>
<text class="b" x="549.50" y="422.30" font-family='"Liberation Sans", sans-serif' font-size="10" font-weight="bold" text-anchor="middle" fill="#111" >4</text>
<text class="b" x="560.00" y="422.30" font-family='"Liberation Sans", sans-serif' font-size="10" font-weight="bold" text-anchor="middle" fill="#111" >7</text>
<text class="b" x="569.70" y="422.30" font-family='"Liberation Sans", sans-serif' font-size="10" font-weight="bold" text-anchor="middle" fill="#111" >14</text>
<text class="b" x="583.30" y="422.30" font-family='"Liberation Sans", sans-serif' font-size="10" font-weight="bold" text-anchor="middle" fill="#111" >21</text>
<line x1="446.30" y1="427.50" x2="516.10" y2="427.50" stroke="#333" stroke-width="1.5"/>
<line x1="520.50" y1="427.50" x2="589.30" y2="427.50" stroke="#333" stroke-width="1.5"/>
<text class="b" x="484.60" y="440.60" font-family='"Liberation Sans", sans-serif' font-size="10.2" font-weight="bold" text-anchor="middle" fill="#1a1a1a" textLength="36.4" lengthAdjust="spacingAndGlyphs">Control</text>
<text class="b" x="555.80" y="440.60" font-family='"Liberation Sans", sans-serif' font-size="10" font-weight="bold" text-anchor="middle" fill="#222" textLength="61" lengthAdjust="spacingAndGlyphs">sh14-3-3η(d)</text>
<line x1="453.90" y1="298.30" x2="513.80" y2="298.30" stroke="#222" stroke-width="1.4"/>
<line x1="524.80" y1="298.30" x2="585.50" y2="298.30" stroke="#222" stroke-width="1.4"/>
<path d="M476.19,285.90L476.19,290.30M474.29,287.00L478.10,289.20M478.10,287.00L474.29,289.20" stroke="#000" stroke-width="1.35" fill="none"/>
<path d="M482.87,285.90L482.87,290.30M480.96,287.00L484.77,289.20M484.77,287.00L480.96,289.20" stroke="#000" stroke-width="1.35" fill="none"/>
<path d="M489.53,285.90L489.53,290.30M487.63,287.00L491.44,289.20M491.44,287.00L487.63,289.20" stroke="#000" stroke-width="1.35" fill="none"/>
<path d="M496.20,285.90L496.20,290.30M494.30,287.00L498.11,289.20M498.11,287.00L494.30,289.20" stroke="#000" stroke-width="1.35" fill="none"/>
<path d="M547.00,287.70L547.00,292.10M545.09,288.80L548.90,291.00M548.90,288.80L545.09,291.00" stroke="#000" stroke-width="1.35" fill="none"/>
<path d="M553.66,287.70L553.66,292.10M551.76,288.80L555.57,291.00M555.57,288.80L551.76,291.00" stroke="#000" stroke-width="1.35" fill="none"/>
<path d="M560.34,287.70L560.34,292.10M558.43,288.80L562.24,291.00M562.24,288.80L558.43,291.00" stroke="#000" stroke-width="1.35" fill="none"/>
<path d="M567.00,287.70L567.00,292.10M565.10,288.80L568.91,291.00M568.91,288.80L565.10,291.00" stroke="#000" stroke-width="1.35" fill="none"/>
<text transform="translate(429.00,416.90) rotate(-90)" font-family='"Liberation Sans", sans-serif' font-size="10.5" font-weight="bold" text-anchor="start" fill="#111" textLength="129.70" lengthAdjust="spacingAndGlyphs" class="b" >relative mRNA level of ost</text>
<text x="614.20" y="256.10" font-family='"Liberation Serif", serif' font-size="16.5" font-weight="normal" text-anchor="start" fill="#111" textLength="21.8" lengthAdjust="spacingAndGlyphs">(H)</text>
<line x1="647.30" y1="295.05" x2="647.30" y2="408.40" stroke="#1e1e1e" stroke-width="1.35"/>
<line x1="643.30" y1="408.40" x2="647.30" y2="408.40" stroke="#1e1e1e" stroke-width="1.35"/>
<text x="639.90" y="412.40" font-family='"Liberation Serif", serif' font-size="10" font-weight="normal" text-anchor="end" fill="#4a4a4a" >0</text>
<line x1="643.30" y1="352.05" x2="647.30" y2="352.05" stroke="#1e1e1e" stroke-width="1.35"/>
<text x="639.90" y="356.05" font-family='"Liberation Serif", serif' font-size="10" font-weight="normal" text-anchor="end" fill="#4a4a4a" >5</text>
<line x1="643.30" y1="295.70" x2="647.30" y2="295.70" stroke="#1e1e1e" stroke-width="1.35"/>
<text x="639.90" y="299.70" font-family='"Liberation Serif", serif' font-size="10" font-weight="normal" text-anchor="end" fill="#4a4a4a" >10</text>
<rect x="649.60" y="398.60" width="5.00" height="9.80" fill="#000"/>
<rect x="650.50" y="397.60" width="3.20" height="1.20" fill="#000"/>
<rect x="660.10" y="398.00" width="5.00" height="10.40" fill="#000"/>
<rect x="661.00" y="397.00" width="3.20" height="1.20" fill="#000"/>
<rect x="670.60" y="396.90" width="5.00" height="11.50" fill="#000"/>
<rect x="671.50" y="395.90" width="3.20" height="1.20" fill="#000"/>
<rect x="681.10" y="396.40" width="5.00" height="12.00" fill="#000"/>
<rect x="682.00" y="395.40" width="3.20" height="1.20" fill="#000"/>
<rect x="691.60" y="396.40" width="5.00" height="12.00" fill="#000"/>
<rect x="692.50" y="395.40" width="3.20" height="1.20" fill="#000"/>
<rect x="702.10" y="394.60" width="5.00" height="13.80" fill="#000"/>
<rect x="703.00" y="393.60" width="3.20" height="1.20" fill="#000"/>
<rect x="723.10" y="397.20" width="5.00" height="11.20" fill="#000"/>
<rect x="724.00" y="396.20" width="3.20" height="1.20" fill="#000"/>
<rect x="733.60" y="390.40" width="5.00" height="18.00" fill="#000"/>
<rect x="734.50" y="389.40" width="3.20" height="1.20" fill="#000"/>
<rect x="744.10" y="369.50" width="5.00" height="38.90" fill="#000"/>
<rect x="745.00" y="368.50" width="3.20" height="1.20" fill="#000"/>
<rect x="754.60" y="329.70" width="5.00" height="78.70" fill="#000"/>
<rect x="755.50" y="328.70" width="3.20" height="1.20" fill="#000"/>
<rect x="765.10" y="313.30" width="5.00" height="95.10" fill="#000"/>
<rect x="766.00" y="312.30" width="3.20" height="1.20" fill="#000"/>
<rect x="775.60" y="306.00" width="5.00" height="102.40" fill="#000"/>
<rect x="776.50" y="305.00" width="3.20" height="1.20" fill="#000"/>
<line x1="643.30" y1="408.40" x2="782.10" y2="408.40" stroke="#111" stroke-width="1.4"/>
<text class="b" x="652.10" y="421.60" font-family='"Liberation Sans", sans-serif' font-size="10" font-weight="bold" text-anchor="middle" fill="#111" >0</text>
<text class="b" x="662.60" y="421.60" font-family='"Liberation Sans", sans-serif' font-size="10" font-weight="bold" text-anchor="middle" fill="#111" >1</text>
<text class="b" x="673.10" y="421.60" font-family='"Liberation Sans", sans-serif' font-size="10" font-weight="bold" text-anchor="middle" fill="#111" >4</text>
<text class="b" x="683.60" y="421.60" font-family='"Liberation Sans", sans-serif' font-size="10" font-weight="bold" text-anchor="middle" fill="#111" >7</text>
<text class="b" x="693.30" y="421.60" font-family='"Liberation Sans", sans-serif' font-size="10" font-weight="bold" text-anchor="middle" fill="#111" >14</text>
<text class="b" x="706.90" y="421.60" font-family='"Liberation Sans", sans-serif' font-size="10" font-weight="bold" text-anchor="middle" fill="#111" >21</text>
<text class="b" x="725.60" y="421.60" font-family='"Liberation Sans", sans-serif' font-size="10" font-weight="bold" text-anchor="middle" fill="#111" >0</text>
<text class="b" x="736.10" y="421.60" font-family='"Liberation Sans", sans-serif' font-size="10" font-weight="bold" text-anchor="middle" fill="#111" >1</text>
<text class="b" x="746.60" y="421.60" font-family='"Liberation Sans", sans-serif' font-size="10" font-weight="bold" text-anchor="middle" fill="#111" >4</text>
<text class="b" x="757.10" y="421.60" font-family='"Liberation Sans", sans-serif' font-size="10" font-weight="bold" text-anchor="middle" fill="#111" >7</text>
<text class="b" x="766.80" y="421.60" font-family='"Liberation Sans", sans-serif' font-size="10" font-weight="bold" text-anchor="middle" fill="#111" >14</text>
<text class="b" x="780.40" y="421.60" font-family='"Liberation Sans", sans-serif' font-size="10" font-weight="bold" text-anchor="middle" fill="#111" >21</text>
<line x1="643.30" y1="426.80" x2="713.10" y2="426.80" stroke="#333" stroke-width="1.5"/>
<line x1="717.50" y1="426.80" x2="786.30" y2="426.80" stroke="#333" stroke-width="1.5"/>
<text class="b" x="681.60" y="439.90" font-family='"Liberation Sans", sans-serif' font-size="10.2" font-weight="bold" text-anchor="middle" fill="#1a1a1a" textLength="36.4" lengthAdjust="spacingAndGlyphs">Control</text>
<text class="b" x="752.80" y="439.90" font-family='"Liberation Sans", sans-serif' font-size="10" font-weight="bold" text-anchor="middle" fill="#222" textLength="61" lengthAdjust="spacingAndGlyphs">sh14-3-3η(d)</text>
<line x1="652.30" y1="297.00" x2="713.60" y2="297.00" stroke="#222" stroke-width="1.4"/>
<line x1="720.90" y1="297.00" x2="781.80" y2="297.00" stroke="#222" stroke-width="1.4"/>
<path d="M674.29,284.90L674.29,289.30M672.39,286.00L676.20,288.20M676.20,286.00L672.39,288.20" stroke="#000" stroke-width="1.35" fill="none"/>
<path d="M680.96,284.90L680.96,289.30M679.06,286.00L682.87,288.20M682.87,286.00L679.06,288.20" stroke="#000" stroke-width="1.35" fill="none"/>
<path d="M687.63,284.90L687.63,289.30M685.73,286.00L689.54,288.20M689.54,286.00L685.73,288.20" stroke="#000" stroke-width="1.35" fill="none"/>
<path d="M694.30,284.90L694.30,289.30M692.40,286.00L696.21,288.20M696.21,286.00L692.40,288.20" stroke="#000" stroke-width="1.35" fill="none"/>
<path d="M742.70,284.90L742.70,289.30M740.79,286.00L744.60,288.20M744.60,286.00L740.79,288.20" stroke="#000" stroke-width="1.35" fill="none"/>
<path d="M749.37,284.90L749.37,289.30M747.46,286.00L751.27,288.20M751.27,286.00L747.46,288.20" stroke="#000" stroke-width="1.35" fill="none"/>
<path d="M756.04,284.90L756.04,289.30M754.13,286.00L757.94,288.20M757.94,286.00L754.13,288.20" stroke="#000" stroke-width="1.35" fill="none"/>
<path d="M762.71,284.90L762.71,289.30M760.80,286.00L764.61,288.20M764.61,286.00L760.80,288.20" stroke="#000" stroke-width="1.35" fill="none"/>
<text transform="translate(627.30,416.10) rotate(-90)" font-family='"Liberation Sans", sans-serif' font-size="10.5" font-weight="bold" text-anchor="start" fill="#111" textLength="145.40" lengthAdjust="spacingAndGlyphs" class="b" >relative mRNA level of Runx2</text>
<text x="8.80" y="31.60" font-family='"Liberation Serif", serif' font-size="16.5" font-weight="normal" text-anchor="start" fill="#111" textLength="22.4" lengthAdjust="spacingAndGlyphs">(A)</text>
<line x1="41.40" y1="83.25" x2="41.40" y2="183.30" stroke="#222" stroke-width="1.3"/>
<line x1="36.90" y1="183.30" x2="41.40" y2="183.30" stroke="#222" stroke-width="1.3"/>
<text x="33.90" y="187.40" font-family='"Liberation Serif", serif' font-size="10" font-weight="normal" text-anchor="end" fill="#4a4a4a" >0</text>
<line x1="36.90" y1="133.60" x2="41.40" y2="133.60" stroke="#222" stroke-width="1.3"/>
<text x="33.90" y="137.70" font-family='"Liberation Serif", serif' font-size="10" font-weight="normal" text-anchor="end" fill="#4a4a4a" >0. 5</text>
<line x1="36.90" y1="83.90" x2="41.40" y2="83.90" stroke="#222" stroke-width="1.3"/>
<text x="33.90" y="88.00" font-family='"Liberation Serif", serif' font-size="10" font-weight="normal" text-anchor="end" fill="#4a4a4a" >1</text>
<rect x="45.00" y="84.90" width="5.40" height="98.40" fill="#000"/>
<rect x="46.00" y="83.90" width="3.40" height="1.20" fill="#000"/>
<rect x="56.20" y="159.80" width="5.60" height="23.50" fill="#000"/>
<line x1="59.00" y1="157.60" x2="59.00" y2="159.80" stroke="#000" stroke-width="1"/>
<line x1="57.00" y1="157.60" x2="61.00" y2="157.60" stroke="#000" stroke-width="1.2"/>
<line x1="36.90" y1="183.30" x2="66.00" y2="183.30" stroke="#111" stroke-width="1.4"/>
<line x1="41.40" y1="183.30" x2="41.40" y2="186.80" stroke="#000" stroke-width="1.3"/>
<line x1="53.20" y1="183.30" x2="53.20" y2="186.80" stroke="#000" stroke-width="1.3"/>
<path d="M55.10,144.54L55.10,148.06M53.58,145.42L56.62,147.18M56.62,145.42L53.58,147.18" stroke="#000" stroke-width="1.2" fill="none"/>
<path d="M60.50,144.54L60.50,148.06M58.98,145.42L62.02,147.18M62.02,145.42L58.98,147.18" stroke="#000" stroke-width="1.2" fill="none"/>
<path d="M65.90,144.54L65.90,148.06M64.38,145.42L67.42,147.18M67.42,145.42L64.38,147.18" stroke="#000" stroke-width="1.2" fill="none"/>
<text transform="translate(52.80,187.60) rotate(-45)" font-family='"Liberation Sans", sans-serif' font-size="10.6" font-weight="bold" text-anchor="end" fill="#111" class="b" >shCtrl</text>
<text transform="translate(70.50,186.20) rotate(-45)" font-family='"Liberation Sans", sans-serif' font-size="10.6" font-weight="bold" text-anchor="end" fill="#111" class="b" >sh14-3-3η</text>
<text transform="translate(13.20,193.50) rotate(-90)" font-family='"Liberation Sans", sans-serif' font-size="10.5" font-weight="bold" text-anchor="start" fill="#111" textLength="145.70" lengthAdjust="spacingAndGlyphs" class="b" >relative mRNA level of14-3-3η</text>
<text transform="translate(156.30,41.30) rotate(-45)" font-family='"Liberation Sans", sans-serif' font-size="10.1" font-weight="bold" text-anchor="start" fill="#111" class="b" >shCtrl</text>
<text transform="translate(179.30,41.30) rotate(-45)" font-family='"Liberation Sans", sans-serif' font-size="10.1" font-weight="bold" text-anchor="start" fill="#111" class="b" >sh14-3-3η</text>
<text class="b" x="102.90" y="56.40" font-family='"Liberation Sans", sans-serif' font-size="10.2" font-weight="bold" text-anchor="start" fill="#111" >14-3-3η</text>
<rect x="143.90" y="41.90" width="40.40" height="18.20" fill="#e0e0e0" stroke="#2a2a2a" stroke-width="1.3"/>
<rect x="146.2" y="50.3" width="17.0" height="4.5" rx="2.2" fill="#000"/>
<path d="M168.6,52.8 C168.6,51.4 171,51.3 174.2,52.3 L174.2,53.2 C171,54.2 168.6,54.2 168.6,52.8 Z" fill="#222"/>
<ellipse cx="178.6" cy="52.8" rx="2.4" ry="1.2" fill="#b4b4b4"/>
<text x="150.70" y="70.90" font-family='"Liberation Serif", serif' font-size="9" font-weight="bold" text-anchor="middle" fill="#111" >1</text>
<text x="168.40" y="70.90" font-family='"Liberation Serif", serif' font-size="9" font-weight="bold" text-anchor="middle" fill="#111" >0. 3</text>
<text class="b" x="103.30" y="87.20" font-family='"Liberation Sans", sans-serif' font-size="10.4" font-weight="bold" text-anchor="start" fill="#111" >Actin</text>
<rect x="143.80" y="73.30" width="39.70" height="17.70" fill="#9c9c9c" stroke="#1a1a1a" stroke-width="1.3"/>
<rect x="145.2" y="81.9" width="18.0" height="6.0" rx="2.8" fill="#000"/>
<rect x="163.9" y="82.0" width="16.5" height="5.6" rx="2.6" fill="#000"/>
<line x1="132.00" y1="104.35" x2="132.00" y2="215.30" stroke="#222" stroke-width="1.3"/>
<line x1="128.00" y1="215.30" x2="132.00" y2="215.30" stroke="#222" stroke-width="1.3"/>
<text class="b" x="126.80" y="218.20" font-family='"Liberation Sans", sans-serif' font-size="8.2" font-weight="bold" text-anchor="end" fill="#222" >0.0</text>
<line x1="128.00" y1="178.53" x2="132.00" y2="178.53" stroke="#222" stroke-width="1.3"/>
<text class="b" x="126.80" y="181.43" font-family='"Liberation Sans", sans-serif' font-size="8.2" font-weight="bold" text-anchor="end" fill="#222" >0.5</text>
<line x1="128.00" y1="141.77" x2="132.00" y2="141.77" stroke="#222" stroke-width="1.3"/>
<text class="b" x="126.80" y="144.67" font-family='"Liberation Sans", sans-serif' font-size="8.2" font-weight="bold" text-anchor="end" fill="#222" >1.0</text>
<line x1="128.00" y1="105.00" x2="132.00" y2="105.00" stroke="#222" stroke-width="1.3"/>
<text class="b" x="126.80" y="107.90" font-family='"Liberation Sans", sans-serif' font-size="8.2" font-weight="bold" text-anchor="end" fill="#222" >1.5</text>
<line x1="132.00" y1="215.30" x2="225.50" y2="215.30" stroke="#111" stroke-width="1.4"/>
<rect x="150.20" y="142.10" width="20.40" height="73.20" fill="#000"/>
<line x1="155.20" y1="141.40" x2="165.90" y2="141.40" stroke="#000" stroke-width="1.2"/>
<rect x="193.50" y="194.80" width="19.70" height="20.50" fill="#9a9a9a" stroke="#000" stroke-width="1.4"/>
<line x1="160.40" y1="215.30" x2="160.40" y2="219.30" stroke="#000" stroke-width="1.2"/>
<line x1="203.40" y1="215.30" x2="203.40" y2="219.30" stroke="#000" stroke-width="1.2"/>
<polyline points="159.8,136.5 159.8,130.4 203.5,130.4 203.5,189.5" fill="none" stroke="#111" stroke-width="1.3"/>
<path d="M173.20,121.03L173.20,124.77M171.58,121.97L174.82,123.84M174.82,121.97L171.58,123.84" stroke="#000" stroke-width="1.15" fill="none"/>
<path d="M178.80,121.03L178.80,124.77M177.18,121.97L180.42,123.84M180.42,121.97L177.18,123.84" stroke="#000" stroke-width="1.15" fill="none"/>
<path d="M184.40,121.03L184.40,124.77M182.78,121.97L186.02,123.84M186.02,121.97L182.78,123.84" stroke="#000" stroke-width="1.15" fill="none"/>
<path d="M190.00,121.03L190.00,124.77M188.38,121.97L191.62,123.84M191.62,121.97L188.38,123.84" stroke="#000" stroke-width="1.15" fill="none"/>
<text class="b" x="159.50" y="228.80" font-family='"Liberation Sans", sans-serif' font-size="9.2" font-weight="bold" text-anchor="middle" fill="#111" >shCtrl</text>
<text class="b" x="203.00" y="229.00" font-family='"Liberation Sans", sans-serif' font-size="9.2" font-weight="bold" text-anchor="middle" fill="#111" >sh14-3-3η</text>
<text transform="translate(100.00,217.60) rotate(-90)" font-family='"Liberation Sans", sans-serif' font-size="9.8" font-weight="bold" text-anchor="start" fill="#222" textLength="118.00" lengthAdjust="spacingAndGlyphs" class="b" >14-3-3η Protein Expression</text>
<text transform="translate(110.50,192.80) rotate(-90)" font-family='"Liberation Sans", sans-serif' font-size="9.8" font-weight="bold" text-anchor="start" fill="#222" textLength="67.50" lengthAdjust="spacingAndGlyphs" class="b" >(14-3-3η /Actin)</text>
</svg></body></html>
